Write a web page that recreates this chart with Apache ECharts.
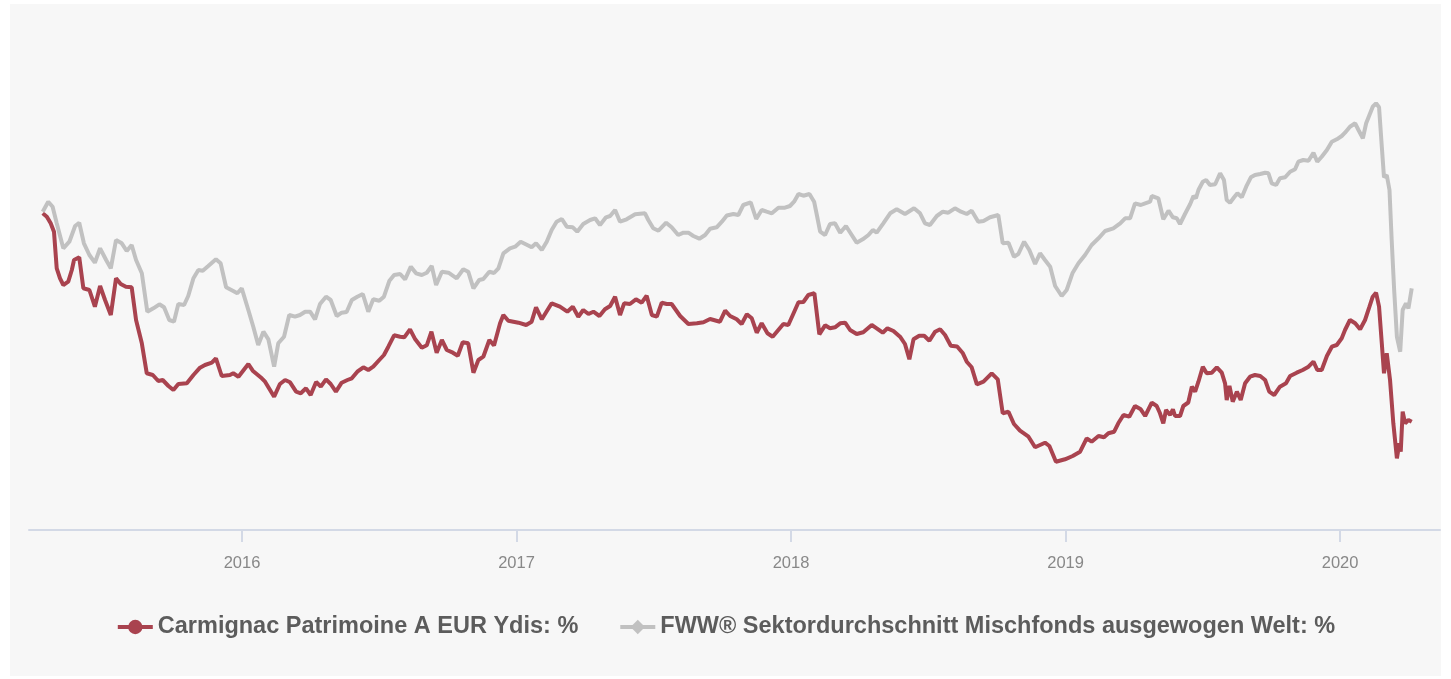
<!DOCTYPE html>
<html>
<head>
<meta charset="utf-8">
<script src="https://cdn.jsdelivr.net/npm/echarts@6/dist/echarts.min.js"></script>
<style>
  html, body { margin: 0; padding: 0; background: #ffffff; }
  #chart { position: absolute; left: 10px; top: 4px; width: 1431px; height: 672px; background: #f7f7f7; }
</style>
</head>
<body>
<div id="chart"></div>
<script>
// time as decimal years, performance in %
var fundName = 'Carmignac Patrimoine A EUR Ydis: %';
var sectorName = 'FWW\u00ae Sektordurchschnitt Mischfonds ausgewogen Welt: %';
var yearTicks = [2016, 2017, 2018, 2019, 2020];

var fundTime = [
  2015.274, 2015.289, 2015.303, 2015.315, 2015.325, 2015.337, 2015.349, 2015.367, 2015.380, 2015.388,
  2015.407, 2015.422, 2015.444, 2015.464, 2015.483, 2015.501, 2015.522, 2015.541, 2015.558, 2015.577,
  2015.598, 2015.614, 2015.635, 2015.653, 2015.675, 2015.695, 2015.711, 2015.732, 2015.750, 2015.768,
  2015.799, 2015.823, 2015.847, 2015.865, 2015.890, 2015.905, 2015.926, 2015.956, 2015.968, 2015.987,
  2016.023, 2016.039, 2016.072, 2016.084, 2016.117, 2016.138, 2016.157, 2016.175, 2016.197, 2016.214,
  2016.233, 2016.250, 2016.270, 2016.287, 2016.306, 2016.323, 2016.342, 2016.363, 2016.384, 2016.400,
  2016.420, 2016.442, 2016.460, 2016.478, 2016.500, 2016.517, 2016.533, 2016.554, 2016.576, 2016.591,
  2016.612, 2016.631, 2016.655, 2016.673, 2016.690, 2016.709, 2016.728, 2016.746, 2016.768, 2016.786,
  2016.804, 2016.824, 2016.843, 2016.861, 2016.879, 2016.901, 2016.918, 2016.940, 2016.952, 2016.970,
  2017.007, 2017.035, 2017.055, 2017.071, 2017.092, 2017.128, 2017.158, 2017.185, 2017.205, 2017.225,
  2017.243, 2017.262, 2017.280, 2017.302, 2017.322, 2017.341, 2017.359, 2017.377, 2017.392, 2017.413,
  2017.435, 2017.456, 2017.474, 2017.493, 2017.511, 2017.529, 2017.547, 2017.565, 2017.596, 2017.626,
  2017.657, 2017.681, 2017.705, 2017.741, 2017.760, 2017.778, 2017.802, 2017.820, 2017.839, 2017.857,
  2017.875, 2017.893, 2017.914, 2017.933, 2017.972, 2017.990, 2018.008, 2018.027, 2018.045, 2018.063,
  2018.085, 2018.103, 2018.124, 2018.142, 2018.160, 2018.179, 2018.197, 2018.215, 2018.239, 2018.263,
  2018.294, 2018.312, 2018.334, 2018.351, 2018.373, 2018.397, 2018.415, 2018.431, 2018.446, 2018.467,
  2018.485, 2018.504, 2018.525, 2018.543, 2018.561, 2018.582, 2018.605, 2018.626, 2018.640, 2018.658,
  2018.677, 2018.701, 2018.731, 2018.753, 2018.771, 2018.792, 2018.812, 2018.834, 2018.865, 2018.889,
  2018.925, 2018.941, 2018.965, 2018.998, 2019.026, 2019.053, 2019.077, 2019.095, 2019.120, 2019.140,
  2019.156, 2019.177, 2019.192, 2019.211, 2019.232, 2019.253, 2019.274, 2019.290, 2019.314, 2019.332,
  2019.344, 2019.356, 2019.366, 2019.381, 2019.391, 2019.399, 2019.417, 2019.429, 2019.447, 2019.460,
  2019.472, 2019.484, 2019.500, 2019.514, 2019.533, 2019.551, 2019.569, 2019.581, 2019.587, 2019.597,
  2019.609, 2019.624, 2019.638, 2019.654, 2019.672, 2019.690, 2019.709, 2019.727, 2019.742, 2019.760,
  2019.781, 2019.803, 2019.818, 2019.842, 2019.864, 2019.885, 2019.903, 2019.917, 2019.933, 2019.952,
  2019.970, 2019.988, 2020.006, 2020.018, 2020.036, 2020.055, 2020.073, 2020.091, 2020.107, 2020.119,
  2020.131, 2020.142, 2020.152, 2020.160, 2020.170, 2020.182, 2020.194, 2020.207, 2020.216, 2020.221,
  2020.228, 2020.237, 2020.249, 2020.261
];
var fundValues = [
  -0.33, -0.67, -1.33, -2.17, -5.83, -6.83, -7.5, -7.17, -6.0, -5.0,
  -4.73, -7.83, -8.0, -9.67, -7.6, -9.0, -10.5, -6.83, -7.4, -7.67,
  -7.73, -11.0, -13.33, -16.33, -16.5, -17.1, -17.0, -17.6, -18.0, -17.4,
  -17.33, -16.5, -15.77, -15.5, -15.27, -14.83, -16.6, -16.5, -16.33, -16.67,
  -15.4, -16.07, -16.83, -17.17, -18.67, -17.4, -17.0, -17.23, -18.17, -18.33,
  -17.83, -18.5, -17.2, -17.67, -16.93, -17.4, -18.17, -17.27, -17.0, -16.83,
  -16.17, -15.73, -16.0, -15.67, -15.0, -14.5, -13.67, -12.53, -12.67, -12.73,
  -11.93, -12.93, -13.77, -13.53, -12.17, -14.27, -13.0, -14.0, -14.27, -14.57,
  -13.23, -13.33, -16.27, -15.0, -14.67, -13.0, -13.55, -11.33, -10.5, -11.07,
  -11.27, -11.5, -11.17, -9.73, -10.93, -9.33, -9.67, -10.17, -9.67, -10.67,
  -10.0, -10.4, -10.17, -10.6, -9.93, -9.6, -8.67, -10.5, -9.33, -9.4,
  -8.93, -9.27, -8.57, -10.5, -10.67, -9.27, -9.4, -9.4, -10.6, -11.4,
  -11.33, -11.23, -10.9, -11.17, -10.07, -10.6, -10.93, -11.4, -10.43, -10.83,
  -12.27, -11.33, -12.33, -12.67, -11.4, -11.5, -10.4, -9.23, -9.2, -8.5,
  -8.33, -12.43, -11.53, -11.83, -11.73, -11.33, -11.27, -12.0, -12.4, -12.23,
  -11.5, -11.83, -12.27, -11.83, -12.1, -12.67, -13.4, -14.93, -12.93, -12.57,
  -12.57, -13.07, -12.17, -11.93, -12.5, -13.57, -13.65, -14.33, -15.17, -15.73,
  -17.43, -17.17, -16.33, -16.93, -20.33, -20.17, -21.4, -22.07, -22.67, -23.73,
  -23.27, -23.6, -25.17, -24.93, -24.6, -24.17, -22.83, -23.17, -22.6, -22.73,
  -22.33, -22.17, -21.33, -20.5, -20.67, -19.6, -19.93, -20.6, -19.27, -19.6,
  -20.33, -21.33, -20.0, -20.5, -19.93, -20.6, -20.6, -19.6, -19.25, -17.67,
  -18.17, -17.17, -15.67, -16.33, -16.27, -15.73, -16.27, -17.33, -19.0, -17.6,
  -19.17, -18.17, -19.0, -17.33, -16.67, -16.5, -16.6, -17.0, -18.17, -18.5,
  -17.67, -17.33, -16.6, -16.27, -16.0, -15.67, -15.17, -16.0, -16.0, -14.6,
  -13.67, -13.5, -12.83, -12.0, -11.0, -11.33, -11.93, -11.0, -9.67, -8.67,
  -8.27, -9.67, -13.33, -16.33, -14.33, -17.0, -21.33, -24.83, -23.33, -24.17,
  -20.17, -21.33, -21.0, -21.17
];

var sectorTime = [
  2015.274, 2015.294, 2015.310, 2015.325, 2015.349, 2015.371, 2015.392, 2015.407, 2015.424, 2015.444,
  2015.464, 2015.483, 2015.505, 2015.522, 2015.541, 2015.562, 2015.580, 2015.598, 2015.614, 2015.635,
  2015.655, 2015.677, 2015.699, 2015.716, 2015.735, 2015.752, 2015.768, 2015.789, 2015.804, 2015.823,
  2015.841, 2015.857, 2015.877, 2015.905, 2015.922, 2015.942, 2015.968, 2015.983, 2015.999, 2016.023,
  2016.041, 2016.059, 2016.078, 2016.096, 2016.117, 2016.132, 2016.153, 2016.172, 2016.193, 2016.211,
  2016.230, 2016.248, 2016.266, 2016.284, 2016.306, 2016.323, 2016.345, 2016.363, 2016.381, 2016.400,
  2016.420, 2016.440, 2016.460, 2016.478, 2016.500, 2016.517, 2016.537, 2016.554, 2016.576, 2016.594,
  2016.615, 2016.634, 2016.655, 2016.673, 2016.691, 2016.707, 2016.728, 2016.752, 2016.782, 2016.806,
  2016.824, 2016.843, 2016.864, 2016.879, 2016.901, 2016.918, 2016.934, 2016.952, 2016.976, 2016.995,
  2017.015, 2017.039, 2017.055, 2017.071, 2017.092, 2017.110, 2017.128, 2017.146, 2017.165, 2017.183,
  2017.205, 2017.221, 2017.243, 2017.268, 2017.286, 2017.304, 2017.326, 2017.341, 2017.359, 2017.377,
  2017.401, 2017.432, 2017.468, 2017.480, 2017.498, 2017.517, 2017.545, 2017.565, 2017.589, 2017.608,
  2017.626, 2017.644, 2017.666, 2017.687, 2017.705, 2017.729, 2017.748, 2017.766, 2017.790, 2017.808,
  2017.826, 2017.853, 2017.873, 2017.893, 2017.911, 2017.930, 2017.954, 2017.978, 2017.996, 2018.011,
  2018.027, 2018.045, 2018.067, 2018.084, 2018.094, 2018.106, 2018.124, 2018.142, 2018.160, 2018.179,
  2018.200, 2018.221, 2018.239, 2018.261, 2018.282, 2018.298, 2018.312, 2018.336, 2018.361, 2018.385,
  2018.415, 2018.448, 2018.470, 2018.488, 2018.506, 2018.531, 2018.553, 2018.573, 2018.597, 2018.619,
  2018.640, 2018.658, 2018.682, 2018.701, 2018.725, 2018.755, 2018.771, 2018.792, 2018.812, 2018.828,
  2018.849, 2018.868, 2018.889, 2018.907, 2018.925, 2018.944, 2018.962, 2018.986, 2019.004, 2019.026,
  2019.047, 2019.071, 2019.095, 2019.120, 2019.144, 2019.174, 2019.199, 2019.217, 2019.235, 2019.253,
  2019.274, 2019.290, 2019.308, 2019.314, 2019.338, 2019.356, 2019.375, 2019.391, 2019.405, 2019.417,
  2019.435, 2019.454, 2019.466, 2019.475, 2019.484, 2019.500, 2019.512, 2019.526, 2019.545, 2019.563,
  2019.577, 2019.587, 2019.599, 2019.614, 2019.626, 2019.642, 2019.658, 2019.675, 2019.690, 2019.709,
  2019.727, 2019.739, 2019.751, 2019.767, 2019.781, 2019.800, 2019.818, 2019.836, 2019.848, 2019.866,
  2019.885, 2019.903, 2019.917, 2019.933, 2019.952, 2019.970, 2019.988, 2020.006, 2020.018, 2020.036,
  2020.055, 2020.067, 2020.083, 2020.095, 2020.107, 2020.119, 2020.131, 2020.142, 2020.152, 2020.160,
  2020.170, 2020.180, 2020.188, 2020.197, 2020.207, 2020.219, 2020.228, 2020.240, 2020.249, 2020.261
];
var sectorValues = [
  -0.17, 0.83, 0.33, -1.33, -3.83, -3.17, -1.6, -1.27, -3.33, -4.5,
  -5.27, -3.83, -5.0, -5.83, -3.0, -3.33, -4.1, -3.5, -5.0, -6.33,
  -10.17, -9.83, -9.43, -9.73, -11.0, -11.17, -9.4, -9.5, -8.6, -6.83,
  -6.0, -6.07, -5.6, -4.93, -5.33, -7.73, -8.1, -8.33, -7.83, -10.0,
  -11.67, -13.5, -12.17, -12.93, -15.67, -13.33, -12.67, -10.5, -10.67, -10.5,
  -10.17, -10.17, -10.93, -9.4, -8.67, -9.0, -10.6, -10.27, -10.2, -9.0,
  -8.67, -8.4, -10.17, -8.93, -9.07, -8.67, -7.07, -6.5, -6.4, -6.93,
  -5.67, -6.33, -6.5, -6.27, -5.6, -7.5, -6.17, -6.27, -6.83, -5.93,
  -6.17, -7.83, -7.0, -6.9, -6.17, -6.3, -5.83, -4.33, -3.83, -3.67,
  -3.17, -3.5, -3.73, -3.33, -4.0, -3.17, -2.0, -1.17, -0.9, -1.67,
  -1.73, -2.17, -1.4, -1.0, -0.83, -1.5, -0.73, -0.6, 0.0, -1.17,
  -0.93, -0.43, -0.33, -1.0, -1.83, -2.07, -1.27, -1.73, -2.5, -2.27,
  -2.27, -2.6, -2.87, -2.5, -1.87, -1.73, -1.17, -0.55, -0.4, -0.5,
  0.5, 0.77, -0.9, 0.0, -0.17, -0.33, 0.23, 0.23, 0.4, 0.83,
  1.6, 1.43, 1.6, 0.83, -0.5, -2.17, -2.5, -1.4, -1.33, -2.27,
  -1.6, -2.5, -3.27, -2.93, -2.5, -2.0, -2.27, -1.33, -0.33, 0.07,
  -0.4, 0.17, -0.33, -1.33, -1.5, -0.6, -0.17, -0.27, 0.17, -0.17,
  -0.4, -0.07, -1.17, -1.1, -0.73, -0.5, -3.33, -3.27, -4.67, -4.4,
  -3.17, -4.0, -5.4, -4.33, -5.0, -5.67, -7.6, -8.6, -8.0, -6.27,
  -5.33, -4.5, -3.5, -2.83, -2.1, -1.83, -1.33, -0.83, -0.83, 0.67,
  0.5, 0.67, 0.83, 1.4, 1.17, -0.93, -0.07, -0.73, -0.83, -1.4,
  -0.4, 0.6, 1.4, 1.17, 2.0, 2.83, 3.0, 2.5, 2.57, 3.67,
  3.0, 1.0, 0.73, 1.27, 1.67, 1.27, 2.33, 3.27, 3.5, 3.6,
  3.73, 3.67, 2.67, 2.5, 3.17, 3.27, 3.83, 4.07, 4.83, 5.0,
  4.93, 5.73, 4.83, 5.33, 6.0, 6.83, 7.07, 7.4, 7.73, 8.33,
  8.67, 8.0, 7.17, 8.67, 9.5, 10.33, 10.67, 10.27, 6.33, 3.27,
  3.5, 2.0, -3.0, -8.0, -12.67, -14.17, -10.0, -9.33, -9.83, -7.83
];

function pairs(xs, ys) {
  return xs.map(function (x, i) { return [x, ys[i]]; });
}

var myChart = echarts.init(document.getElementById('chart'));

var option = {
  animation: false,
  backgroundColor: '#f7f7f7',
  textStyle: { fontFamily: '"Liberation Sans", Arial, sans-serif' },
  grid: { left: 19, right: 1, top: 26, bottom: 146 },
  legend: {
    bottom: 32,
    left: 'center',
    itemWidth: 35,
    itemHeight: 18,
    itemGap: 40,
    lineStyle: { width: 4 },
    textStyle: { color: '#5c5c5c', fontSize: 23.5, fontWeight: 'bold' },
    data: [fundName, sectorName]
  },
  xAxis: {
    type: 'value',
    min: 2015.224,
    max: 2020.364,
    axisLine: { onZero: false, lineStyle: { color: '#d3d9e6', width: 2 } },
    axisTick: { show: true, length: 12, lineStyle: { color: '#d3d9e6', width: 2 }, customValues: yearTicks },
    axisLabel: {
      color: '#888888', fontSize: 16.5, margin: 25,
      customValues: yearTicks,
      formatter: function (v) { return String(v); }
    },
    splitLine: { show: false }
  },
  yAxis: {
    type: 'value',
    min: -32,
    max: 18,
    show: false,
    splitLine: { show: false }
  },
  series: [
    {
      name: fundName,
      type: 'line',
      symbol: 'circle',
      symbolSize: 12,
      showSymbol: false,
      color: '#a9434f',
      lineStyle: { width: 4, color: '#a9434f' },
      data: pairs(fundTime, fundValues)
    },
    {
      name: sectorName,
      type: 'line',
      symbol: 'diamond',
      symbolSize: 12,
      showSymbol: false,
      color: '#c1c1c1',
      lineStyle: { width: 4, color: '#c1c1c1' },
      data: pairs(sectorTime, sectorValues)
    }
  ]
};
myChart.setOption(option);
</script>
</body>
</html>
